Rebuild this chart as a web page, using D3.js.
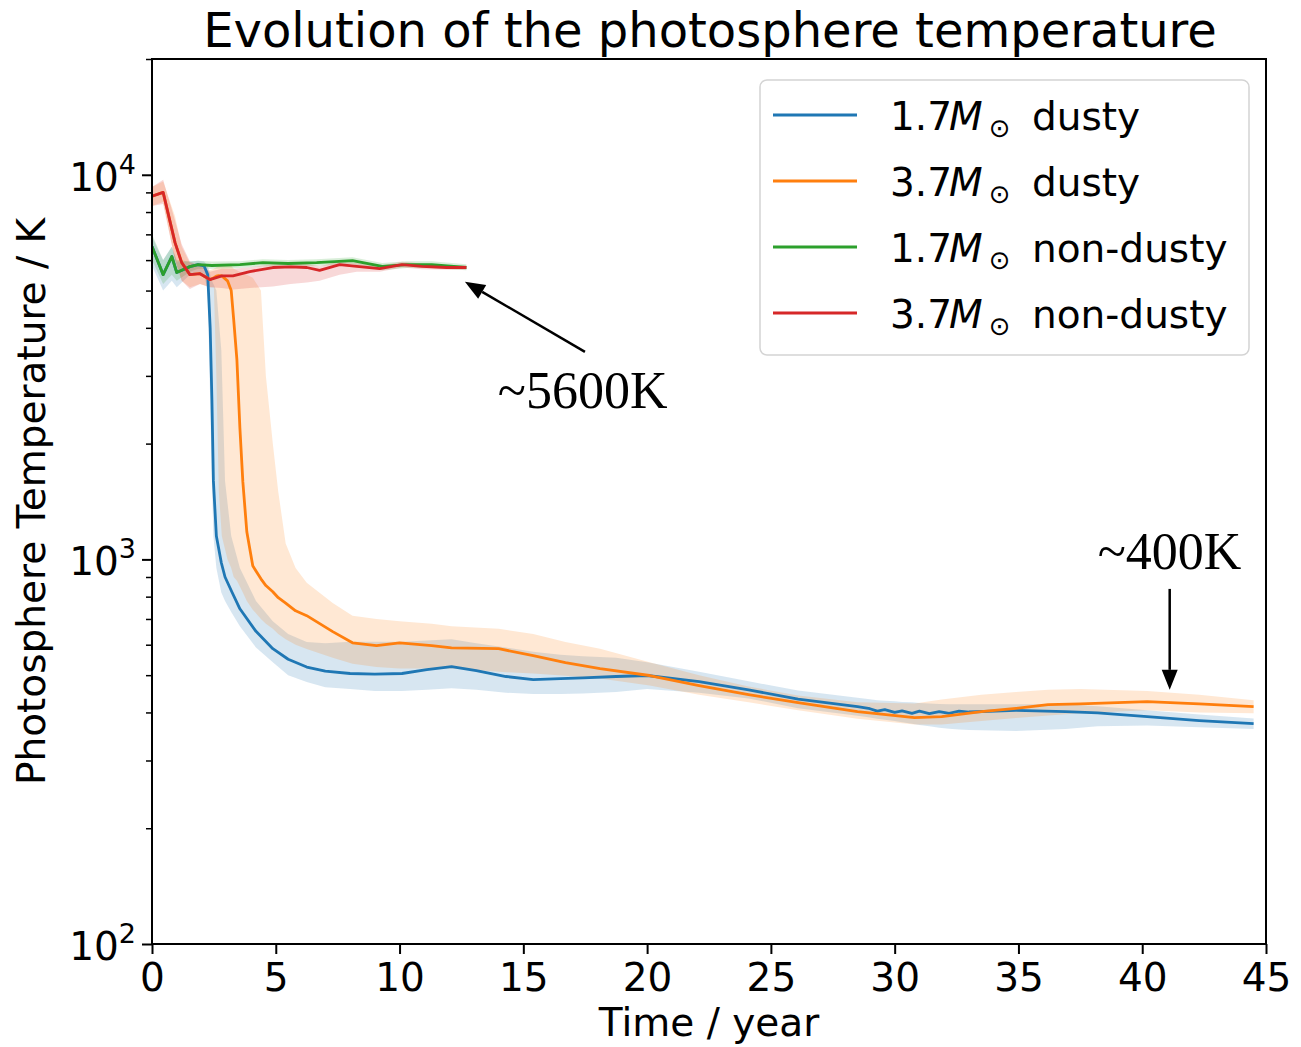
<!DOCTYPE html>
<html>
<head>
<meta charset="utf-8">
<script src="https://cdn.jsdelivr.net/npm/d3@7"></script>
<style>
  body { margin: 0; background: #fff; }
  svg { display: block; }
</style>
</head>
<body>
<svg id="chart" width="1301" height="1047"></svg>
<script>
// Each row: [time in years, mean photosphere temperature (K), band low (K), band high (K)]
const dusty17 = [
  [0, 6510, 5800, 6900], [0.45, 5500, 5000, 6000], [0.8, 6130, 5300, 6500], [1.0, 5570, 5100, 5950],
  [1.53, 5770, 5500, 5950], [1.86, 5840, 5600, 5980], [2.1, 5800, 5500, 5950], [2.25, 5500, 5000, 5800],
  [2.35, 4000, 2600, 5500], [2.42, 2600, 1600, 5300], [2.48, 1600, 1150, 5200], [2.6, 1150, 950, 5000],
  [2.8, 980, 820, 3500], [2.95, 900, 780, 1600], [3.2, 830, 730, 1150], [3.55, 744, 670, 950],
  [4.2, 650, 590, 780], [4.88, 586, 540, 690], [5.5, 550, 500, 640], [6.25, 525, 480, 610],
  [7.0, 512, 465, 605], [8.0, 505, 460, 611], [9.0, 503, 455, 611], [10.1, 505, 455, 611],
  [11.1, 517, 458, 615], [12.1, 526, 462, 620], [13.1, 514, 458, 605], [14.3, 496, 450, 590],
  [15.4, 487, 447, 575], [16.5, 490, 447, 565], [17.4, 492, 448, 560], [18.75, 496, 452, 555],
  [20.0, 499, 460, 540], [22.1, 481, 450, 510], [24.1, 458, 435, 482], [26.1, 433, 410, 456],
  [28.5, 414, 392, 437], [29.0, 409, 388, 433], [29.3, 403, 385, 430], [29.6, 407, 383, 429],
  [30.0, 400, 380, 428], [30.3, 404, 377, 426], [30.7, 398, 374, 425], [31.0, 403, 371, 423],
  [31.4, 397, 368, 422], [31.8, 402, 365, 421], [32.2, 398, 363, 420], [32.6, 403, 361, 420],
  [33.0, 401, 360, 420], [34.9, 405, 358, 420], [36.9, 402, 362, 420], [38.2, 399, 368, 415],
  [40.2, 390, 370, 405], [42.3, 381, 366, 395], [44.5, 374, 362, 386]
];
const dusty37 = [
  [0, 8800, 8300, 9300], [0.45, 9000, 8500, 9600], [0.93, 6660, 6000, 7800], [1.2, 5910, 5300, 6500],
  [1.53, 5500, 5100, 5900], [1.94, 5530, 5200, 5800], [2.34, 5340, 5100, 5650], [2.5, 5400, 5100, 5700],
  [2.6, 5450, 3000, 5750], [2.7, 5470, 1500, 5800], [2.82, 5460, 1150, 5800], [3.05, 5300, 1000, 5800],
  [3.2, 5000, 950, 5800], [3.3, 4200, 900, 5700], [3.43, 3300, 880, 5650], [3.55, 2200, 850, 5600],
  [3.67, 1590, 820, 5550], [3.83, 1180, 780, 5500], [4.07, 962, 740, 5400], [4.4, 890, 700, 5000],
  [4.6, 855, 680, 3000], [4.88, 824, 660, 2000], [5.1, 795, 640, 1500], [5.4, 770, 620, 1100],
  [5.8, 735, 600, 950], [6.25, 714, 585, 870], [7.3, 649, 555, 770], [8.1, 607, 535, 714],
  [9.07, 597, 525, 700], [10.0, 607, 520, 690], [11.3, 597, 520, 680], [12.1, 589, 520, 670],
  [14.0, 586, 510, 660], [15.4, 562, 505, 640], [16.7, 539, 498, 610], [18.1, 520, 490, 586],
  [20.1, 499, 470, 540], [22.1, 470, 445, 500], [24.1, 445, 425, 467], [26.1, 424, 405, 443],
  [28.5, 402, 385, 425], [30.8, 388, 372, 422], [31.9, 390, 372, 432], [33.5, 402, 380, 445],
  [34.9, 410, 387, 452], [36.2, 419, 393, 458], [37.5, 421, 398, 460], [40.2, 427, 405, 455],
  [42.3, 421, 400, 445], [44.5, 414, 398, 430]
];
const nondusty17 = [
  [0, 6510, 6000, 7000], [0.45, 5500, 5200, 6000], [0.8, 6130, 5500, 6500], [1.0, 5570, 5300, 6000],
  [1.53, 5770, 5600, 5950], [1.86, 5840, 5700, 5980], [2.42, 5810, 5700, 5950], [3.55, 5840, 5720, 5960],
  [4.48, 5910, 5780, 6030], [5.5, 5880, 5760, 6000], [6.65, 5910, 5790, 6030], [8.1, 5980, 5850, 6100],
  [9.3, 5780, 5650, 5900], [10.3, 5840, 5720, 5960], [11.3, 5840, 5720, 5960], [12.7, 5740, 5650, 5850]
];
const nondusty37 = [
  [0, 8800, 8300, 9300], [0.45, 9000, 8400, 9700], [0.93, 6660, 6000, 7600], [1.2, 5910, 5300, 6600],
  [1.53, 5500, 5050, 5950], [1.94, 5530, 5200, 5800], [2.34, 5340, 5100, 5600], [2.82, 5460, 5080, 5700],
  [3.27, 5460, 5030, 5700], [3.95, 5600, 5080, 5750], [4.88, 5740, 5120, 5850], [5.6, 5760, 5200, 5870],
  [6.25, 5740, 5250, 5850], [6.77, 5640, 5300, 5780], [7.58, 5840, 5500, 5950], [8.27, 5780, 5600, 5900],
  [9.2, 5700, 5600, 5800], [10.1, 5840, 5740, 5940], [10.9, 5780, 5680, 5880], [11.9, 5740, 5660, 5820],
  [12.7, 5740, 5670, 5810]
];

const seriesData = [dusty17, dusty37, nondusty17, nondusty37];
const seriesMass = ["1.7", "3.7", "1.7", "3.7"];
const seriesKind = ["dusty", "dusty", "non-dusty", "non-dusty"];
const seriesColor = ["#1f77b4", "#ff7f0e", "#2ca02c", "#d62728"];

const xTicks = [0, 5, 10, 15, 20, 25, 30, 35, 40, 45];
const yMajor = [100, 1000, 10000];
const yMajorExp = ["2", "3", "4"];
const yMinor = [200, 300, 400, 500, 600, 700, 800, 900,
                2000, 3000, 4000, 5000, 6000, 7000, 8000, 9000, 20000];

// Annotations: arrow tip and tail, and text anchor (left, baseline), in data units
const annotations = [
  { text: "~5600K", tip: [12.64, 5270], tail: [17.49, 3465], at: [13.97, 2477] },
  { text: "~400K",  tip: [41.11, 458],  tail: [41.11, 838],  at: [38.2, 945] }
];

const titleText = "Evolution of the photosphere temperature";
const xLabel = "Time / year";
const yLabel = "Photosphere Temperature / K";

// ---- layout ----
const W = 1301, H = 1047;
const plot = { left: 152, right: 1266, top: 59, bottom: 944 };
const FONT = "'DejaVu Sans', sans-serif";
const fs = 39;

const svg = d3.select("#chart");
const x = d3.scaleLinear().domain([0, 45]).range([plot.left, plot.right]);
const y = d3.scaleLog().domain([100, 20000]).range([plot.bottom, plot.top]);

svg.append("rect").attr("width", W).attr("height", H).attr("fill", "#fff");

svg.append("defs").append("clipPath").attr("id", "plotclip")
  .append("rect")
  .attr("x", plot.left).attr("y", plot.top)
  .attr("width", plot.right - plot.left).attr("height", plot.bottom - plot.top);

const gData = svg.append("g").attr("clip-path", "url(#plotclip)");

const area = d3.area()
  .x(d => x(d[0]))
  .y0(d => y(d[2]))
  .y1(d => y(d[3]));
const line = d3.line()
  .x(d => x(d[0]))
  .y(d => y(d[1]));

// uncertainty bands, then mean curves
seriesData.forEach((s, i) => {
  gData.append("path").attr("d", area(s))
    .attr("fill", seriesColor[i]).attr("fill-opacity", 0.18).attr("stroke", "none");
});
seriesData.forEach((s, i) => {
  gData.append("path").attr("d", line(s))
    .attr("fill", "none").attr("stroke", seriesColor[i])
    .attr("stroke-width", 2.8).attr("stroke-linejoin", "round");
});

// ---- axes ----
const xAxis = d3.axisBottom(x).tickValues(xTicks).tickSize(10).tickPadding(8)
  .tickFormat(d3.format("d"));
const gx = svg.append("g").attr("transform", `translate(0,${plot.bottom})`).call(xAxis);
gx.select(".domain").remove();
gx.selectAll(".tick line").attr("stroke", "#000").attr("stroke-width", 2);
gx.selectAll(".tick text").attr("font-family", FONT).attr("font-size", fs).attr("fill", "#000")
  .attr("dy", null).attr("y", 47);

const yAxisMajor = d3.axisLeft(y).tickValues(yMajor).tickSize(10).tickFormat("");
const gy = svg.append("g").attr("transform", `translate(${plot.left},0)`).call(yAxisMajor);
gy.select(".domain").remove();
gy.selectAll(".tick line").attr("stroke", "#000").attr("stroke-width", 2);

const yAxisMinor = d3.axisLeft(y).tickValues(yMinor).tickSize(6).tickFormat("");
const gym = svg.append("g").attr("transform", `translate(${plot.left},0)`).call(yAxisMinor);
gym.select(".domain").remove();
gym.selectAll(".tick line").attr("stroke", "#000").attr("stroke-width", 1.5);

// power-of-ten labels
yMajor.forEach((v, i) => {
  const t = svg.append("text")
    .attr("x", plot.left - 16).attr("y", y(v) + 16)
    .attr("text-anchor", "end")
    .attr("font-family", FONT).attr("font-size", fs).attr("fill", "#000");
  t.append("tspan").text("10");
  t.append("tspan").attr("dy", -17).attr("font-size", 27).text(yMajorExp[i]);
});

// frame
svg.append("rect")
  .attr("x", plot.left).attr("y", plot.top)
  .attr("width", plot.right - plot.left).attr("height", plot.bottom - plot.top)
  .attr("fill", "none").attr("stroke", "#000").attr("stroke-width", 2);

// ---- titles ----
svg.append("text").attr("x", 710).attr("y", 47)
  .attr("text-anchor", "middle").attr("font-family", FONT).attr("font-size", 48)
  .attr("fill", "#000").text(titleText);
svg.append("text").attr("x", (plot.left + plot.right) / 2).attr("y", 1036)
  .attr("text-anchor", "middle").attr("font-family", FONT).attr("font-size", fs)
  .attr("fill", "#000").text(xLabel);
svg.append("text")
  .attr("transform", `translate(45,${(plot.top + plot.bottom) / 2}) rotate(-90)`)
  .attr("text-anchor", "middle").attr("font-family", FONT).attr("font-size", fs)
  .attr("fill", "#000").text(yLabel);

// ---- legend ----
const lg = svg.append("g");
lg.append("rect").attr("x", 760).attr("y", 80).attr("width", 489).attr("height", 275)
  .attr("rx", 7).attr("fill", "#fff").attr("fill-opacity", 0.8)
  .attr("stroke", "#d4d4d4").attr("stroke-width", 1.5);
seriesColor.forEach((c, i) => {
  const ry = 115 + i * 66;
  lg.append("line").attr("x1", 773).attr("x2", 857).attr("y1", ry).attr("y2", ry)
    .attr("stroke", c).attr("stroke-width", 2.8);
  const t = lg.append("text").attr("x", 890).attr("y", ry + 15)
    .attr("font-family", FONT).attr("font-size", fs).attr("fill", "#000");
  t.append("tspan").text(seriesMass[i]);
  t.append("tspan").attr("font-style", "italic").attr("dx", -3).text("M");
  t.append("tspan").attr("font-size", 26).attr("dx", 6).attr("dy", 7).text("\u2299");
  t.append("tspan").attr("x", 1032).attr("dy", -7).text(seriesKind[i]);
});

// ---- annotations ----
const ga = svg.append("g");
annotations.forEach(a => {
  const x1 = x(a.tail[0]), y1 = y(a.tail[1]);
  const x2 = x(a.tip[0]), y2 = y(a.tip[1]);
  const len = Math.hypot(x2 - x1, y2 - y1);
  const ux = (x2 - x1) / len, uy = (y2 - y1) / len;
  const headL = 20, headW = 8;
  const bx = x2 - ux * headL, by = y2 - uy * headL;
  ga.append("line").attr("x1", x1).attr("y1", y1).attr("x2", bx).attr("y2", by)
    .attr("stroke", "#000").attr("stroke-width", 2.5);
  ga.append("path")
    .attr("d", `M${x2},${y2} L${bx - uy * headW},${by + ux * headW} L${bx + uy * headW},${by - ux * headW} Z`)
    .attr("fill", "#000");
  ga.append("text").attr("x", x(a.at[0])).attr("y", y(a.at[1]))
    .attr("font-family", "'Liberation Serif', 'DejaVu Serif', serif").attr("font-size", 52)
    .attr("fill", "#000").text(a.text);
});
</script>
</body>
</html>
